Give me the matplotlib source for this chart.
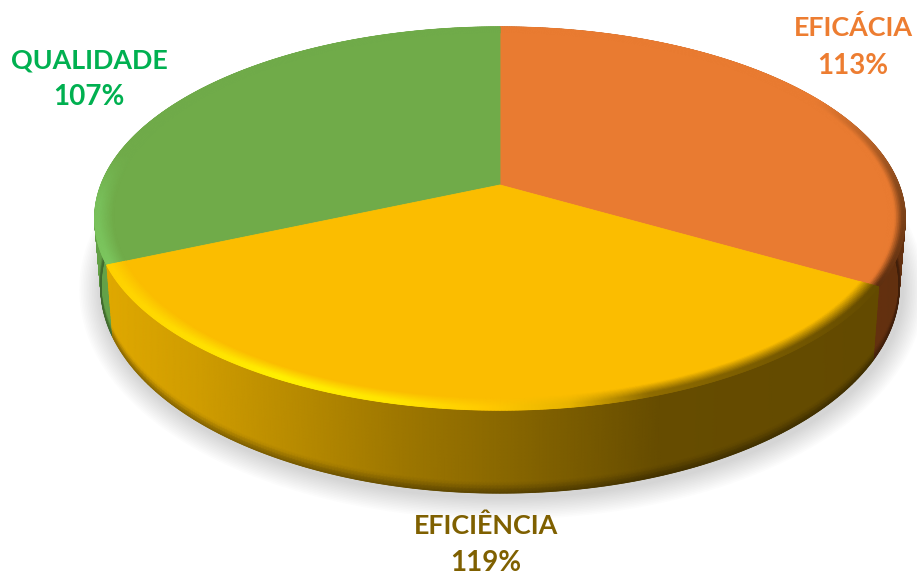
import matplotlib

matplotlib.use("Agg")

import matplotlib.pyplot as plt
import numpy as np
from matplotlib.collections import LineCollection
from matplotlib.colors import to_rgb

# chart data, clockwise from 12 o'clock
labels = ["EFICÁCIA", "EFICIÊNCIA", "QUALIDADE"]
values = [113, 119, 107]

face_shown = ["#E97B31", "#FBBD00", "#70AB49"]
text_colors = ["#ED7D31", "#7F6000", "#00B050"]
label_pos = [(853, 28), (486, 526), (89, 60)]
pct_pos = [(853, 66), (486, 563), (89, 97)]

# perspective of the tilted disc, in pixels
CX = 500
K = 0.175
TOP = dict(a=399.0, b=185.6, y0=185.0)
BASE = dict(a=393.0, b=200.0, y0=250.5)
R_IN = 0.955


def project(theta, r, plane):
    """Disc point (clockwise angle from north, radius) to picture coordinates."""
    u = r * np.sin(theta)
    v = r * np.cos(theta)
    w = 1 + K * v
    return CX + plane["a"] * u / w, plane["y0"] - plane["b"] * v / w


def ramp(xs, stops, colors):
    """Interpolate hex colours over xs, returns (..., 3)."""
    rgb = np.array([to_rgb(c) for c in colors])
    return np.stack([np.interp(xs, stops, rgb[:, i]) for i in range(3)], axis=-1)


def side_color(i, x):
    if i == 0:
        return ramp(x, [700, 900], ["#6A3512", "#62300F"])
    if i == 1:
        return ramp(
            x,
            [108, 200, 300, 400, 500, 600, 660, 880],
            ["#DFA800", "#CF9C00", "#B78A00", "#9E7700", "#8A6800", "#745700", "#664C00", "#634A00"],
        )
    return ramp(x, [95, 115], ["#629F45", "#66A44A"])


def rim_color(i, theta, x):
    deg = np.degrees(theta)
    if i == 0:
        return ramp(deg, [0, 60, 90, 120], ["#E97B31", "#E97B31", "#8A4A1C", "#5E2F10"])
    if i == 1:
        return ramp(
            x,
            [108, 200, 280, 400, 490, 570, 650, 880],
            ["#FFD000", "#FFE000", "#FFF000", "#FFE400", "#FFC800", "#E8B400", "#8F6C00", "#644B00"],
        )
    return ramp(deg, [246, 265, 280], ["#7CC65E", "#78BF5A", "#70AB49"])


def edge_line(x, y, colors, zorder):
    pts = np.column_stack([x, y])
    segs = np.stack([pts[:-1], pts[1:]], axis=1)
    ax.add_collection(LineCollection(segs, colors=colors[:-1], lw=1.0, zorder=zorder))


fig, ax = plt.subplots(figsize=(9.17, 5.75), dpi=100)
ax.set_position([0, 0, 1, 1])
ax.set_xlim(0, 917)
ax.set_ylim(575, 0)
ax.axis("off")

edges = np.radians(np.concatenate([[0], np.cumsum(values)]) / np.sum(values) * 360)

# soft shadow under the base
ring = np.linspace(0, 2 * np.pi, 400)
sx, sy = project(ring, 1.0, BASE)
for lw in np.linspace(34, 4, 14):
    ax.plot(sx + 2, sy + 3, color="#808080", lw=lw, alpha=0.022, zorder=1)

# side walls, back ones first, then the rim and the flat top
for order, i in enumerate([2, 0, 1]):
    th = np.linspace(edges[i], edges[i + 1], 300)
    t = np.linspace(0, 1, 24)
    tt, ss = np.meshgrid(th, t)
    xt, yt = project(tt, 1.0, TOP)
    xb, yb = project(tt, 1.0, BASE)
    xs = xt + (xb - xt) * ss
    ys = yt + (yb - yt) * ss
    col = side_color(i, xs)
    shade = 1 - 0.35 * np.clip((ss - 0.88) / 0.12, 0, 1)
    ax.pcolormesh(xs, ys, col * shade[..., None], shading="gouraud", zorder=2 + order)
    # smooth the jagged lower edge
    edge_line(xb[0], yb[0], col[-1] * 0.65, 2 + order)

for order, i in enumerate([0, 2, 1]):
    th = np.linspace(edges[i], edges[i + 1], 300)
    px, py = project(th, R_IN + 0.003, TOP)
    cx0, cy0 = project(0.0, 0.0, TOP)
    ax.fill(np.r_[cx0, px], np.r_[cy0, py], color=face_shown[i], lw=0.6, zorder=10 + 3 * order)

    r = np.linspace(R_IN, 1.0, 12)
    tt, rr = np.meshgrid(th, r)
    xs, ys = project(tt, rr, TOP)
    rim = rim_color(i, tt, xs)
    face = np.array(to_rgb(face_shown[i]))
    start = 0.975 if i == 0 else R_IN  # the orange edge darkens only at the very end
    mix = np.clip((rr - start) / (1 - start) / 0.75, 0, 1)[..., None]
    col = face + (rim - face) * mix
    ax.pcolormesh(xs, ys, col, shading="gouraud", zorder=11 + 3 * order)
    edge_line(xs[-1], ys[-1], col[-1], 11 + 3 * order)

for name, val, color, lp, pp in zip(labels, values, text_colors, label_pos, pct_pos):
    ax.text(*lp, name, color=color, family="Lato", weight="bold", fontsize=19.4,
            ha="center", va="center", zorder=30)
    ax.text(*pp, f"{val}%", color=color, family="Lato", weight="bold", fontsize=20,
            ha="center", va="center", zorder=30)

fig.savefig("out.png", dpi=100, facecolor="white")
